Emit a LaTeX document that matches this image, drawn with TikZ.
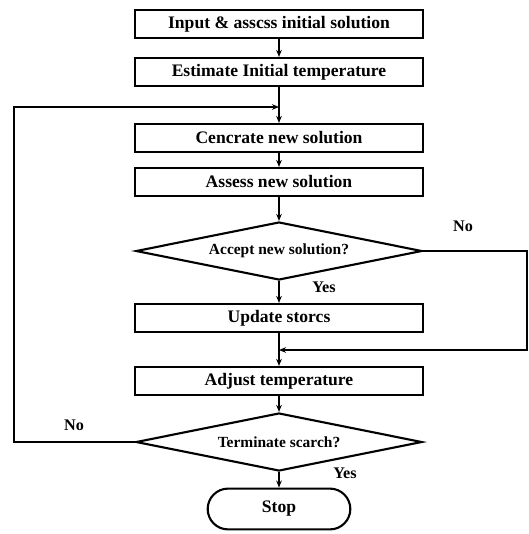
\documentclass[tikz,border=0pt]{standalone}
\usepackage{fontspec}
\setmainfont{Liberation Serif}
\usetikzlibrary{shapes.geometric,shapes.misc,arrows.meta}

\begin{document}
\begin{tikzpicture}[x=0.025cm, y=-0.025cm,
	stepbox/.style={draw, line width=1.5pt, minimum width=7.2cm, minimum height=0.7cm, font=\fontsize{12.5}{14}\selectfont\bfseries},
	decide/.style={draw, diamond, aspect=4.9, inner sep=0pt, line width=1.5pt, minimum width=7.15cm, minimum height=1.45cm, font=\fontsize{11}{13}\selectfont\bfseries},
	endbox/.style={draw, rounded rectangle, line width=1.5pt, minimum width=3.8cm, minimum height=1.02cm, font=\fontsize{12.5}{14}\selectfont\bfseries},
	answer/.style={font=\fontsize{11.5}{13}\selectfont\bfseries},
	flow/.style={-{Stealth[length=5pt,width=4pt]}, line width=1.2pt}]
	\useasboundingbox (0,0) rectangle (528,534);
	\node[stepbox] (input) at (279,24) {Input \& asscss initial solution};
	\node[stepbox] (estimate) at (279,72) {Estimate Initial temperature};
	\node[stepbox] (generate) at (279,138) {Cencrate new solution};
	\node[stepbox] (assess) at (279,182) {Assess new solution};
	\node[decide] (accept) at (279,251) {Accept new solution?};
	\node[stepbox] (update) at (279,318) {Update storcs};
	\node[stepbox] (adjust) at (279,381) {Adjust temperature};
	\node[decide] (terminate) at (279,442) {Terminate scarch?};
	\node[endbox] (stop) at (279,509) {Stop};
	\node[answer] (acceptno) at (463,226) {No};
	\node[answer] (acceptyes) at (324,287) {Yes};
	\node[answer] (terminateno) at (74,425) {No};
	\node[answer] (terminateyes) at (345,473) {Yes};
	\coordinate (loopin) at (279,107);
	\coordinate (mergein) at (279,350);
	\draw[flow] (input) -- (estimate);
	\draw[flow] (estimate) -- (generate);
	\draw[flow] (generate) -- (assess);
	\draw[flow] (assess) -- (accept);
	\draw[flow] (accept) -- (update);
	\draw[flow] (update) -- (adjust);
	\draw[flow] (adjust) -- (terminate);
	\draw[flow] (terminate) -- (stop);
	\draw[flow] (accept.east) -- (527,251) -- (527,350) -- (mergein);
	\draw[flow] (terminate.west) -- (14,442) -- (14,107) -- (loopin);
\end{tikzpicture}
\end{document}
